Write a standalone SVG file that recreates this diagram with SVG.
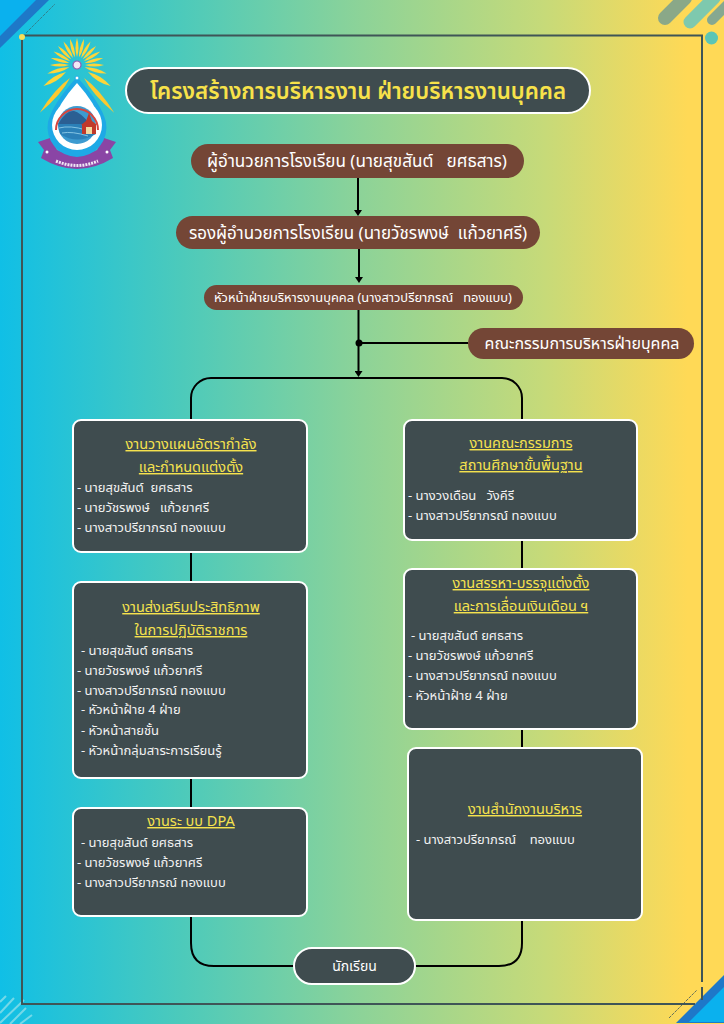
<svg xmlns="http://www.w3.org/2000/svg" width="724" height="1024" viewBox="0 0 724 1024">
<style>
text{font-family:"Noto Sans Thai","Noto Sans","Liberation Sans","DejaVu Sans",sans-serif;white-space:pre}
.p{fill:#744636}
.pt{fill:#fff;text-anchor:middle}
.b{fill:#3f4c4f;stroke:#fff;stroke-width:2}
.h{fill:#f5e24e;font-size:14.500px;text-anchor:middle;text-decoration:underline}
.t{fill:#f2f2f2;font-size:13px}
.c{fill:none;stroke:#000;stroke-width:2}
.f{fill:none;stroke:#3f5557;stroke-width:2}
</style>
<defs>
<linearGradient id="bg" x1="0" x2="1" y1="0" y2="0">
<stop offset="0" stop-color="#10bfe6"/><stop offset=".25" stop-color="#4ccabb"/><stop offset=".5" stop-color="#8dd398"/><stop offset=".75" stop-color="#c6da79"/><stop offset=".95" stop-color="#ffd956"/><stop offset="1" stop-color="#ffd956"/>
</linearGradient>
<marker id="a" markerWidth="6" markerHeight="8" refX="3" refY="4" orient="auto" markerUnits="userSpaceOnUse" viewBox="0 0 6 8"><path d="M0 0L6 4L0 8z" fill="#000"/></marker>
<path id="ray" d="M0 0Q-3 -9 0 -19Q3 -9 0 0z" fill="#fdd53a"/>
<path id="leaf" d="M0 0Q-4.500 -18 0 -46Q4.500 -18 0 0z" fill="#fdc92f"/>
</defs>
<rect width="724" height="1024" fill="url(#bg)"/>
<g id="decor">
<path d="M0 0H49L0 48z" fill="#1e78c8"/><path d="M0 0H36L0 36z" fill="#0ab1ee"/>
<path d="M26 33L55 4" stroke="#3f5557" stroke-width=".6" stroke-dasharray="3 1" fill="none"/>
<g stroke-linecap="round" fill="none"><path d="M665 18L685 -2" stroke="#8aa888" stroke-width="14"/><path d="M690 22L714 -2" stroke="#7ec9ae" stroke-width="13"/><path d="M712 20L730 2" stroke="#86a890" stroke-width="10"/></g>
<circle cx="711.500" cy="38" r="6.500" fill="#5cc5b5"/>
<path d="M724 975V1023H676z" fill="#1e78c8"/><path d="M724 987V1022H689z" fill="#0ab1ee"/>
<path d="M669 1018L697 990" stroke="#3f5557" stroke-width=".8" stroke-dasharray="3 1" fill="none"/>
<g stroke="#74d8e8" stroke-width="2" fill="none"><path d="M0 1002L6 996M0 1013L14 998M0 1023L24 1000M10 1024L26 1008M20 1024L32 1015"/></g>
<path class="f" d="M702 982V35.500H22V1004H695M702 987V1000"/>
<circle cx="22" cy="37" r="3" fill="#f8e05a"/>
</g>
<g id="logo">
<g transform="translate(77 65)">
<use href="#ray" transform="rotate(0) translate(0 -8)"/><use href="#ray" transform="rotate(-15) translate(0 -8)"/><use href="#ray" transform="rotate(15) translate(0 -8)"/><use href="#ray" transform="rotate(-30) translate(0 -8)"/><use href="#ray" transform="rotate(30) translate(0 -8)"/><use href="#ray" transform="rotate(-45) translate(0 -8)"/><use href="#ray" transform="rotate(45) translate(0 -8)"/><use href="#ray" transform="rotate(-60) translate(0 -8)"/><use href="#ray" transform="rotate(60) translate(0 -8)"/><use href="#ray" transform="rotate(-75) translate(0 -8)"/><use href="#ray" transform="rotate(75) translate(0 -8)"/><use href="#ray" transform="rotate(-90) translate(0 -8)"/><use href="#ray" transform="rotate(90) translate(0 -8)"/>
<use href="#ray" transform="rotate(-106) translate(0 -8) scale(1.200)"/><use href="#ray" transform="rotate(106) translate(0 -8) scale(1.200)"/>
<circle r="4" fill="#f3e8f5" stroke="#8a5ab0" stroke-width="1.200"/>
</g>
<use href="#leaf" transform="translate(70 78) rotate(-139)"/><use href="#leaf" transform="translate(84 78) rotate(139)"/>
<use href="#ray" transform="translate(66 72) rotate(-122) scale(1.500 1.400)"/><use href="#ray" transform="translate(88 72) rotate(122) scale(1.500 1.400)"/>
<path d="M38 142L50 138L57 150Q77 160 97 150L104 138L116 142L110 150L113 158Q77 180 41 158L44 150z" fill="#8a45a5"/>
<path d="M56 161Q77 170 98 161" fill="none" stroke="#f0e6f4" stroke-width="3" stroke-dasharray="2 1"/>
<circle cx="47" cy="152" r="1.500" fill="#fff"/><circle cx="107" cy="152" r="1.500" fill="#fff"/>
<path d="M77 77Q53 103 48 122A29.500 29.500 0 1 0 106 122Q101 103 77 77z" fill="#1ea9e6"/>
<path d="M77 83Q58 104 53 122A24 24 0 1 0 101 122Q96 104 77 83z" fill="#fff"/>
<circle cx="77" cy="78" r="2" fill="#fff" stroke="#1ea9e6"/>
<circle cx="77" cy="125" r="25" fill="#fff"/>
<circle cx="77" cy="125" r="19" fill="#3d9bd0"/>
<path d="M56 130A21 21 0 0 1 98 130" fill="none" stroke="#d8453e" stroke-width="2"/>
<path d="M58 124Q66 110 74 111Q80 112 90 124z" fill="#2b5f93"/>
<path d="M58 124H96V134Q77 145 60 134z" fill="#2b80b8"/>
<path d="M59 128Q70 125 86 130M62 133Q72 131 88 136" stroke="#9ad4ee" stroke-width=".8" fill="none"/>
<path d="M89 113L92 121L97 125H81L86 121z" fill="#c0392b"/>
<rect x="82" y="125" width="14" height="9" fill="#c0392b"/><rect x="86" y="127" width="6" height="7" fill="#f4d9a0"/>
</g>
<g id="connectors">
<path class="c" d="M358 178V213" marker-end="url(#a)"/>
<path class="c" d="M359 249V280" marker-end="url(#a)"/>
<path class="c" d="M358.500 310V374" marker-end="url(#a)"/>
<path class="c" d="M359 343H468"/>
<circle cx="359" cy="343" r="3.500"/>
<path class="c" d="M191 420V398A20 20 0 0 1 211 378H502A20 20 0 0 1 522 398V420"/>
<path class="c" d="M191 552V582M191 778V808M191 916V943Q191 966 214 966H294"/>
<path class="c" d="M522 540V569M522 729V748M522 920V943Q522 966 499 966H415"/>
</g>
<g id="title"><rect x="126" y="68" width="464" height="45" rx="22.500" class="b"/><text x="358" y="99" text-anchor="middle" font-size="22.300" font-weight="600" fill="#f7e24a">โครงสร้างการบริหารงาน ฝ่ายบริหารงานบุคคล</text></g>
<g id="director"><rect x="191" y="144" width="333" height="34" rx="17" class="p"/><text x="357" y="167" class="pt" font-size="17.100">ผู้อำนวยการโรงเรียน (นายสุขสันต์   ยศธสาร)</text></g>
<g id="deputy"><rect x="176" y="216" width="364" height="33" rx="16.500" class="p"/><text x="358" y="239" class="pt" font-size="17">รองผู้อำนวยการโรงเรียน (นายวัชรพงษ์  แก้วยาศรี)</text></g>
<g id="head"><rect x="204" y="285" width="319" height="25" rx="12.500" class="p"/><text x="363" y="302" class="pt" font-size="12.900">หัวหน้าฝ่ายบริหารงานบุคคล (นางสาวปรียาภรณ์   ทองแบบ)</text></g>
<g id="committee"><rect x="468" y="328" width="226" height="31" rx="15.500" class="p"/><text x="582" y="349" class="pt" font-size="16">คณะกรรมการบริหารฝ่ายบุคคล</text></g>
<g id="box-l1"><rect x="73" y="420" width="234" height="132" rx="8" class="b"/>
<text x="191" y="449" class="h">งานวางแผนอัตรากำลัง</text><text x="191" y="472" class="h">และกำหนดแต่งตั้ง</text>
<text x="77" y="492" class="t">- นายสุขสันต์  ยศธสาร</text><text x="77" y="512" class="t">- นายวัชรพงษ์   แก้วยาศรี</text><text x="77" y="532" class="t">- นางสาวปรียาภรณ์ ทองแบบ</text></g>
<g id="box-l2"><rect x="73" y="582" width="234" height="196" rx="8" class="b"/>
<text x="191" y="612" class="h">งานส่งเสริมประสิทธิภาพ</text><text x="191" y="635" class="h">ในการปฏิบัติราชการ</text>
<text x="81" y="655" class="t">- นายสุขสันต์ ยศธสาร</text><text x="77" y="675" class="t">- นายวัชรพงษ์ แก้วยาศรี</text><text x="77" y="695" class="t">- นางสาวปรียาภรณ์ ทองแบบ</text><text x="81" y="714" class="t">- หัวหน้าฝ้าย 4 ฝ่าย</text><text x="81" y="735" class="t">- หัวหน้าสายชั้น</text><text x="81" y="755" class="t">- หัวหน้ากลุ่มสาระการเรียนรู้</text></g>
<g id="box-l3"><rect x="73" y="808" width="234" height="108" rx="8" class="b"/>
<text x="191" y="826" class="h">งานระ บบ DPA</text>
<text x="81" y="847" class="t">- นายสุขสันต์ ยศธสาร</text><text x="77" y="867" class="t">- นายวัชรพงษ์ แก้วยาศรี</text><text x="77" y="887" class="t">- นางสาวปรียาภรณ์ ทองแบบ</text></g>
<g id="box-r1"><rect x="404" y="420" width="233" height="120" rx="8" class="b"/>
<text x="521" y="448" class="h">งานคณะกรรมการ</text><text x="521" y="470" class="h">สถานศึกษาขั้นพื้นฐาน</text>
<text x="408" y="500" class="t">- นางวงเดือน   วังคีรี</text><text x="408" y="520" class="t">- นางสาวปรียาภรณ์ ทองแบบ</text></g>
<g id="box-r2"><rect x="404" y="569" width="233" height="160" rx="8" class="b"/>
<text x="521" y="588" class="h">งานสรรหา-บรรจุแต่งตั้ง</text><text x="521" y="611" class="h">และการเลื่อนเงินเดือน ฯ</text>
<text x="411" y="640" class="t">- นายสุขสันต์ ยศธสาร</text><text x="408" y="660" class="t">- นายวัชรพงษ์ แก้วยาศรี</text><text x="408" y="680" class="t">- นางสาวปรียาภรณ์ ทองแบบ</text><text x="408" y="700" class="t">- หัวหน้าฝ้าย 4 ฝ่าย</text></g>
<g id="box-r3"><rect x="408" y="748" width="234" height="172" rx="8" class="b"/>
<text x="525" y="814" class="h">งานสำนักงานบริหาร</text>
<text x="416" y="844" class="t">- นางสาวปรียาภรณ์    ทองแบบ</text></g>
<g id="student"><rect x="294" y="948" width="121" height="36" rx="18" class="b"/><text x="354.500" y="971" class="pt" font-size="14">นักเรียน</text></g>
</svg>
